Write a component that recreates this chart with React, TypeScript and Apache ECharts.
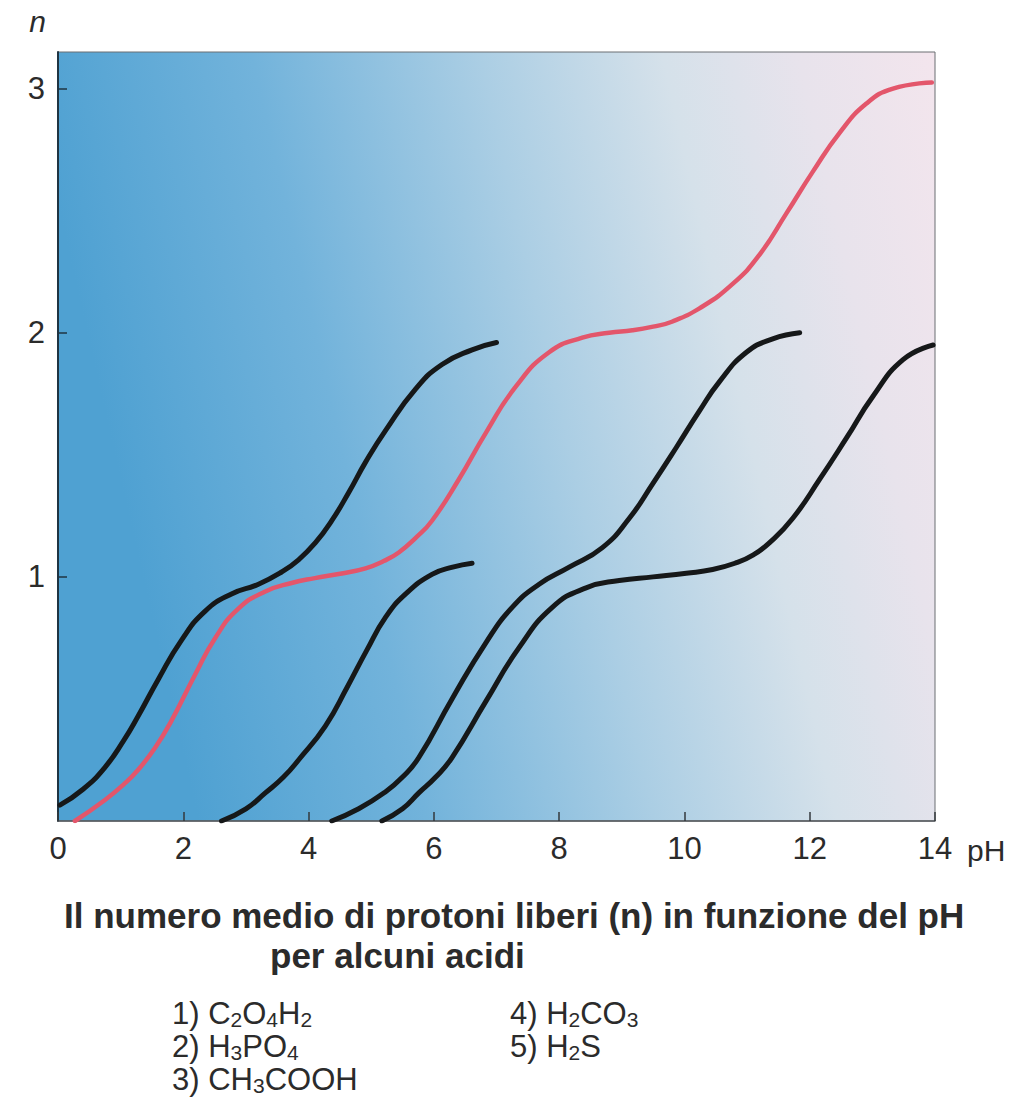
import React, { useEffect, useRef } from "react";
import * as echarts from "echarts";

// pH tick labels and n ticks
const xTicks = [0, 2, 4, 6, 8, 10, 12, 14];
const yTicks = [1, 2, 3];

// Curves: [pH, n]
const curve1 = [
  [0.03, 0.065], [0.4, 0.13], [0.75, 0.22], [1.05, 0.33], [1.28, 0.43], [1.6, 0.58],
  [1.97, 0.74], [2.35, 0.86], [2.77, 0.93], [3.2, 0.97], [3.57, 1.02], [3.84, 1.07],
  [4.11, 1.14], [4.37, 1.23], [4.65, 1.35], [4.91, 1.47], [5.23, 1.6], [5.71, 1.77],
  [6.13, 1.87], [6.61, 1.93], [7.0, 1.96],
];
const curve2 = [
  [0.27, 0.0], [0.75, 0.086], [1.05, 0.15], [1.28, 0.21], [1.55, 0.3], [1.81, 0.41],
  [2.19, 0.6], [2.51, 0.75], [2.88, 0.87], [3.31, 0.94], [3.73, 0.975], [4.1, 0.995],
  [4.48, 1.012], [4.91, 1.035], [5.2, 1.065], [5.44, 1.1], [5.71, 1.16], [5.97, 1.23],
  [6.4, 1.4], [6.83, 1.59], [7.31, 1.78], [7.84, 1.92], [8.37, 1.98], [8.8, 2.0],
  [9.17, 2.01], [9.5, 2.025], [9.8, 2.045], [10.24, 2.1], [10.77, 2.2], [11.2, 2.32],
  [11.63, 2.49], [12.05, 2.66], [12.48, 2.82], [12.91, 2.94], [13.33, 3.0], [13.95, 3.025],
];
const curve3 = [
  [2.61, 0.0], [3.0, 0.05], [3.31, 0.115], [3.6, 0.18], [3.84, 0.25], [4.27, 0.39],
  [4.62, 0.55], [4.93, 0.7], [5.23, 0.835], [5.55, 0.93], [5.97, 1.01], [6.3, 1.04],
  [6.61, 1.056],
];
const curve4 = [
  [4.37, 0.0], [4.8, 0.05], [5.23, 0.12], [5.5, 0.18], [5.76, 0.26], [6.29, 0.5],
  [6.83, 0.73], [7.25, 0.875], [7.68, 0.97], [8.16, 1.04], [8.69, 1.12], [9.12, 1.24],
  [9.49, 1.38], [9.87, 1.53], [10.24, 1.68], [10.56, 1.8], [10.99, 1.92], [11.41, 1.975],
  [11.84, 2.0],
];
const curve5 = [
  [5.17, 0.0], [5.5, 0.05], [5.76, 0.115], [6.03, 0.18], [6.29, 0.26], [6.83, 0.49],
  [7.36, 0.71], [7.89, 0.875], [8.43, 0.955], [8.96, 0.985], [9.5, 1.0], [10.03, 1.015],
  [10.45, 1.03], [10.83, 1.058], [11.1, 1.09], [11.36, 1.14], [11.73, 1.24], [12.16, 1.4],
  [12.59, 1.57], [13.01, 1.74], [13.49, 1.89], [13.97, 1.95],
];

// Curve number labels: [pH, n, text]
const curveLabels: [number, number, string][] = [
  [4.43, 1.4, "1"],
  [6.08, 1.4, "2"],
  [4.67, 0.76, "3"],
  [9.07, 1.4, "4"],
  [11.78, 1.4, "5"],
];

const titleLine1 = "Il numero medio di protoni liberi (n) in funzione del pH";
const titleLine2 = "per alcuni acidi";

// Legend entries as rich-text fragments: [text, isSubscript]
const legendEntries: [string, boolean][][] = [
  [["1) C", false], ["2", true], ["O", false], ["4", true], ["H", false], ["2", true]],
  [["2) H", false], ["3", true], ["PO", false], ["4", true]],
  [["3) CH", false], ["3", true], ["COOH", false]],
  [["4) H", false], ["2", true], ["CO", false], ["3", true]],
  [["5) H", false], ["2", true], ["S", false]],
];

const FONT = "'Liberation Sans', Arial, sans-serif";
const TEXT = "#2b2b2b";

export default function App() {
  const ref = useRef<HTMLDivElement>(null);

  useEffect(() => {
    if (!ref.current) return;
    const chart = echarts.init(ref.current, null, { renderer: "svg" });

    const lineSeries = (data: number[][], color: string, width: number) => ({
      type: "line",
      data,
      smooth: 0.5,
      showSymbol: false,
      symbol: "none",
      silent: true,
      lineStyle: { color, width, cap: "round" },
    });

    const legendText = (entry: [string, boolean][]) =>
      entry.map(([t, sub]) => (sub ? `{s|${t}}` : `{n|${t}}`)).join("");

    const legendPos = [
      [172, 998],
      [172, 1031],
      [172, 1064],
      [510, 998],
      [510, 1031],
    ];

    const richStyles = {
      n: { fontSize: 31, lineHeight: 33, fontFamily: FONT, fill: TEXT },
      s: { fontSize: 21, lineHeight: 11, fontFamily: FONT, fill: TEXT, verticalAlign: "bottom" },
    };

    chart.setOption({
      animation: false,
      backgroundColor: "#ffffff",
      grid: {
        left: 58,
        right: 89,
        top: 52,
        bottom: 295,
        show: true,
        borderColor: "#6b6f73",
        borderWidth: 1,
        backgroundColor: new echarts.graphic.LinearGradient(0, 0.2, 1, 0, [
          { offset: 0, color: "#4fa1d2" },
          { offset: 0.25, color: "#72b3db" },
          { offset: 0.5, color: "#abcee4" },
          { offset: 0.7, color: "#d5e1ea" },
          { offset: 0.85, color: "#e8e3ec" },
          { offset: 1, color: "#f3e5ed" },
        ]),
      },
      xAxis: {
        type: "value",
        min: xTicks[0],
        max: xTicks[xTicks.length - 1],
        interval: 2,
        name: "pH",
        nameLocation: "end",
        nameGap: 32,
        nameTextStyle: {
          fontFamily: FONT,
          fontSize: 30,
          color: TEXT,
          verticalAlign: "top",
          padding: [14, 0, 0, 0],
        },
        axisLine: { show: true, lineStyle: { color: "#55595d", width: 1.5 } },
        axisTick: { show: true, inside: true, length: 9, lineStyle: { color: "#33383c", width: 1.5 } },
        splitLine: { show: false },
        axisLabel: {
          fontFamily: FONT,
          fontSize: 31,
          color: TEXT,
          margin: 12,
        },
      },
      yAxis: {
        type: "value",
        min: 0,
        max: 3.15,
        interval: 1,
        name: "n",
        nameLocation: "end",
        nameGap: 16,
        nameTextStyle: {
          fontFamily: FONT,
          fontSize: 30,
          fontStyle: "italic",
          color: TEXT,
          align: "right",
          padding: [0, 12, 0, 0],
        },
        axisLine: { show: true, lineStyle: { color: "#1f3442", width: 2 } },
        axisTick: { show: true, inside: true, length: 9, lineStyle: { color: "#1f3442", width: 1.5 } },
        splitLine: { show: false },
        axisLabel: {
          fontFamily: FONT,
          fontSize: 31,
          color: TEXT,
          margin: 13,
          showMinLabel: false,
          showMaxLabel: false,
          formatter: (v: number) => (yTicks.includes(v) ? String(v) : ""),
        },
      },
      series: [
        lineSeries(curve1, "#161819", 5),
        lineSeries(curve3, "#161819", 5),
        lineSeries(curve4, "#161819", 5),
        lineSeries(curve5, "#161819", 5),
        lineSeries(curve2, "#e3566b", 4.5),
        {
          type: "scatter",
          silent: true,
          symbolSize: 1,
          itemStyle: { opacity: 0 },
          data: curveLabels.map(([x, y, t]) => ({ value: [x, y], name: t })),
          label: {
            show: true,
            position: "inside",
            formatter: "{b}",
            fontFamily: FONT,
            fontSize: 31,
            color: TEXT,
          },
        },
      ],
      graphic: [
        {
          type: "text",
          left: 64,
          top: 898,
          silent: true,
          style: {
            text: titleLine1,
            font: `bold 35px ${FONT}`,
            fill: TEXT,
          },
        },
        {
          type: "text",
          left: 270,
          top: 938,
          silent: true,
          style: {
            text: titleLine2,
            font: `bold 35px ${FONT}`,
            fill: TEXT,
          },
        },
        ...legendEntries.map((entry, i) => ({
          type: "text",
          left: legendPos[i][0],
          top: legendPos[i][1],
          silent: true,
          style: {
            text: legendText(entry),
            rich: richStyles,
            fill: TEXT,
          },
        })),
      ],
    });

    return () => chart.dispose();
  }, []);

  return (
    <div
      ref={ref}
      style={{ position: "fixed", left: 0, top: 0, width: 1024, height: 1116 }}
    />
  );
}
